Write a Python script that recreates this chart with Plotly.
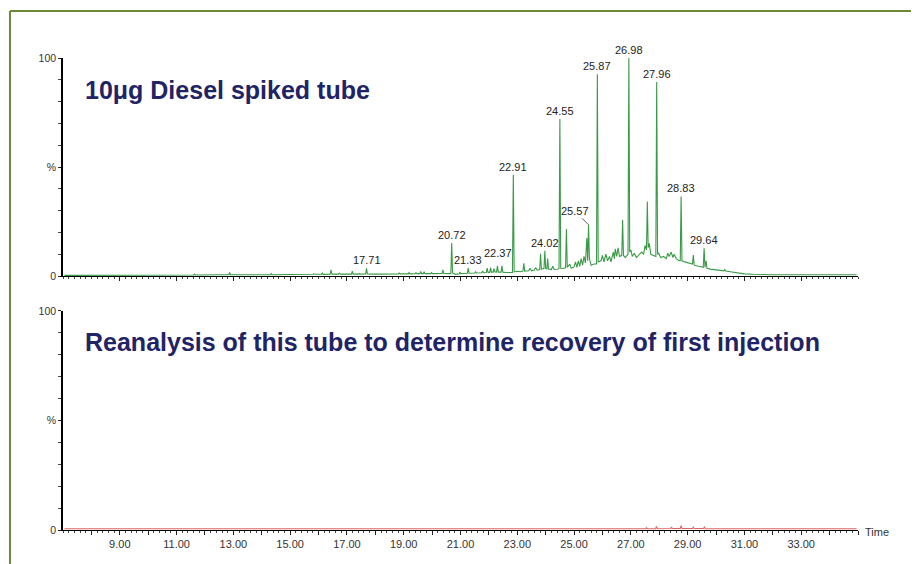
import plotly.graph_objects as go

# ---------------- data ----------------
# Top chromatogram: 10 ug diesel spiked tube (retention time in min, relative intensity %)
TIME_1 = [7.05, 8.0, 9.0, 10.0, 11.0, 11.6, 11.63, 11.66, 12.5, 12.84, 12.87, 12.9, 13.5, 14.3, 14.33, 14.36,
          15.0, 15.5, 15.8, 15.83, 15.86, 16.1, 16.13, 16.16, 16.41, 16.44, 16.47, 16.7, 16.73, 16.76,
          17.16, 17.19, 17.22, 17.4, 17.43, 17.46, 17.66, 17.69, 17.72, 18.0, 18.3, 18.33, 18.36,
          18.81, 18.84, 18.87, 19.16, 19.19, 19.22, 19.4, 19.43, 19.46, 19.57, 19.6, 19.63, 19.69, 19.72, 19.75,
          19.95, 19.98, 20.01, 20.35, 20.38, 20.41, 20.66, 20.69, 20.72, 20.8, 20.95, 20.98, 21.01,
          21.24, 21.27, 21.3, 21.5, 21.53, 21.56, 21.75, 21.78, 21.81, 21.91, 21.94, 21.97, 22.03, 22.06, 22.09,
          22.15, 22.18, 22.21, 22.27, 22.3, 22.33, 22.43, 22.46, 22.49, 22.6, 22.83, 22.86, 22.89,
          23.0, 23.1, 23.2, 23.23, 23.26, 23.4, 23.45, 23.5, 23.6, 23.65, 23.7, 23.79, 23.82, 23.85,
          23.94, 23.97, 24.0, 24.04, 24.07, 24.1, 24.2, 24.25, 24.3, 24.4, 24.47, 24.5, 24.53,
          24.6, 24.7, 24.73, 24.76, 24.85, 24.9, 25.0, 25.05, 25.1, 25.15, 25.2, 25.25, 25.3, 25.35, 25.4,
          25.45, 25.48, 25.51, 25.54, 25.6, 25.7, 25.79, 25.82, 25.85, 25.95, 26.0, 26.05, 26.12, 26.18,
          26.25, 26.3, 26.38, 26.42, 26.45, 26.5, 26.55, 26.6, 26.68, 26.71, 26.74, 26.8, 26.85, 26.9,
          26.93, 26.96, 27.0, 27.05, 27.12, 27.2, 27.3, 27.38, 27.45, 27.5, 27.55, 27.58, 27.61, 27.65,
          27.7, 27.8, 27.88, 27.91, 27.94, 27.98, 28.05, 28.15, 28.25, 28.3, 28.35, 28.42, 28.48, 28.52,
          28.6, 28.7, 28.74, 28.77, 28.8, 28.9, 29.0, 29.1, 29.17, 29.2, 29.23, 29.35, 29.45, 29.55,
          29.58, 29.61, 29.65, 29.68, 29.8, 30.0, 30.2, 30.28, 30.31, 30.34, 30.5, 30.75, 31.0, 31.3,
          31.6, 32.0, 33.0, 34.0, 34.95]
INT_1 = [0.3, 0.3, 0.4, 0.4, 0.5, 0.5, 0.9, 0.5, 0.6, 0.6, 1.6, 0.6, 0.6, 0.6, 1.2, 0.6,
         0.7, 0.7, 0.8, 1.1, 0.8, 0.8, 1.4, 0.8, 0.9, 2.8, 0.9, 0.9, 1.3, 0.9,
         0.9, 2.2, 0.9, 0.9, 1.2, 0.9, 1.0, 3.6, 1.0, 0.9, 0.9, 1.2, 0.9,
         1.0, 1.4, 1.0, 1.0, 1.6, 1.0, 1.1, 1.5, 1.1, 1.1, 2.1, 1.1, 1.1, 2.0, 1.1,
         1.1, 1.6, 1.1, 1.2, 2.8, 1.2, 1.1, 15.2, 1.4, 0.9, 1.0, 1.8, 1.1,
         1.3, 3.6, 1.3, 1.4, 2.0, 1.4, 1.5, 2.3, 1.5, 1.6, 3.6, 1.7, 1.7, 3.9, 1.8,
         1.8, 3.4, 1.9, 1.8, 4.7, 1.8, 1.8, 4.7, 1.8, 1.6, 1.7, 46.5, 1.9,
         2.2, 2.0, 2.3, 5.8, 2.3, 2.4, 3.6, 2.4, 2.8, 3.9, 2.7, 3.0, 10.2, 3.2,
         3.4, 11.6, 3.5, 3.3, 8.0, 3.2, 3.0, 4.5, 3.0, 3.1, 3.4, 72.0, 3.6,
         3.5, 3.8, 21.6, 4.0, 5.5, 3.6, 4.2, 6.5, 4.0, 7.0, 4.5, 8.0, 5.0, 9.0, 6.0,
         17.4, 7.0, 23.5, 8.0, 5.0, 5.5, 5.5, 92.5, 6.5, 7.0, 9.5, 6.5, 10.0, 7.0,
         9.0, 6.5, 11.0, 8.0, 12.5, 9.0, 13.0, 9.0, 9.5, 25.7, 9.5, 8.5, 9.5, 10.0,
         100.0, 11.0, 12.0, 9.0, 10.5, 8.5, 10.0, 11.0, 10.0, 14.0, 12.0, 34.2, 13.0, 15.0,
         10.0, 9.5, 9.0, 89.0, 10.0, 10.5, 8.5, 9.0, 8.0, 10.5, 9.0, 11.0, 8.5, 10.0,
         8.0, 7.0, 7.0, 36.5, 7.0, 6.5, 6.0, 5.5, 5.5, 9.6, 5.0, 4.6, 4.3, 4.0,
         12.8, 4.0, 7.0, 3.6, 3.2, 2.8, 2.5, 2.4, 3.0, 2.3, 2.0, 1.5, 1.0, 0.8,
         0.7, 0.6, 0.6, 0.6, 0.6]

# Bottom chromatogram: reanalysis of the same tube
TIME_2 = [7.05, 12.0, 20.0, 27.0, 27.52, 27.55, 27.58, 27.87, 27.9, 27.93, 28.2, 28.4, 28.43, 28.46,
          28.74, 28.77, 28.8, 29.17, 29.2, 29.23, 29.56, 29.59, 29.62, 30.0, 34.95]
INT_2 = [0.6, 0.6, 0.6, 0.6, 0.6, 1.0, 0.6, 0.6, 1.6, 0.6, 0.7, 0.7, 1.2, 0.7,
         0.7, 2.0, 0.7, 0.7, 1.3, 0.7, 0.7, 1.3, 0.6, 0.6, 0.6]

# Peak labels (text) and the retention time / height of the peak each one sits on
PEAK_LABELS = ["17.71", "20.72", "21.33", "22.37", "22.91", "24.02", "24.55", "25.57",
               "25.87", "26.98", "27.96", "28.83", "29.64"]
PEAK_TIMES = [17.69, 20.69, 21.27, 22.33, 22.86, 23.97, 24.5, 25.51,
              25.82, 26.93, 27.91, 28.77, 29.58]
PEAK_HEIGHTS = [3.6, 15.2, 3.6, 4.7, 46.5, 11.6, 72.0, 23.5,
                92.5, 100.0, 89.0, 36.5, 12.8]

X_TICK_LABELS = ["9.00", "11.00", "13.00", "15.00", "17.00", "19.00", "21.00",
                 "23.00", "25.00", "27.00", "29.00", "31.00", "33.00"]
Y_TICK_LABELS = ["0", "%", "100"]
TITLE_1 = "10μg Diesel spiked tube"
TITLE_2 = "Reanalysis of this tube to determine recovery of first injection"

# ---------------- figure ----------------
FONT = "Liberation Sans, Arial, sans-serif"
NAVY = "#1f2466"
GREEN = "#3a9a47"
RED = "#e06464"
BORDER = "#6b8a33"

fig = go.Figure()
fig.add_trace(go.Scatter(x=TIME_1, y=INT_1, mode="lines", line=dict(color=GREEN, width=1.1),
                         xaxis="x", yaxis="y", hoverinfo="skip", showlegend=False))
fig.add_trace(go.Scatter(x=TIME_2, y=INT_2, mode="lines", line=dict(color=RED, width=1.1),
                         xaxis="x2", yaxis="y2", hoverinfo="skip", showlegend=False))

label_vals = [float(s) for s in X_TICK_LABELS]
major_vals = [float(v) for v in range(8, 36)]
major_text = [X_TICK_LABELS[label_vals.index(v)] if v in label_vals else "" for v in major_vals]

xaxis_common = dict(range=[7, 35], showgrid=False, zeroline=False, showline=True,
                    linecolor="black", linewidth=1.2, ticks="outside", ticklen=4, tickwidth=1,
                    tickcolor="#222", tickvals=major_vals, ticktext=major_text,
                    minor=dict(dtick=0.2, tick0=7, ticklen=2, tickcolor="#444", ticks="outside"),
                    tickfont=dict(family=FONT, size=11, color="#333"))
y_vals = [0, 50, 100]
yaxis_common = dict(range=[0, 100], showgrid=False, zeroline=False, showline=True,
                    linecolor="black", linewidth=1.6, ticks="outside", ticklen=3, tickwidth=1,
                    tickcolor="#222", tickvals=y_vals, ticktext=Y_TICK_LABELS,
                    minor=dict(dtick=10, ticklen=3, tickcolor="#444", ticks="outside"),
                    tickfont=dict(family=FONT, size=10.5, color="#333"))

# the page body has an 8px margin, so the figure is made 8px smaller and shifted via margins
fig.update_layout(
    width=911, height=556,
    margin=dict(l=55, r=61, t=50, b=34),
    paper_bgcolor="white", plot_bgcolor="white",
    xaxis=dict(domain=[0, 1], anchor="y", showticklabels=False, **xaxis_common),
    yaxis=dict(domain=[0.538, 1], anchor="x", **yaxis_common),
    xaxis2=dict(domain=[0, 1], anchor="y2", showticklabels=True, **xaxis_common),
    yaxis2=dict(domain=[0, 0.464], anchor="x2", **yaxis_common),
)

annotations = []
for lab, t, h in zip(PEAK_LABELS, PEAK_TIMES, PEAK_HEIGHTS):
    if lab == "25.57":
        annotations.append(dict(x=t, y=h, xref="x", yref="y", text=lab, showarrow=True,
                                arrowhead=0, arrowwidth=0.8, arrowcolor="#333", ax=-14, ay=-14,
                                standoff=0, font=dict(family=FONT, size=11, color="#222")))
    else:
        ys = 5 if lab == "22.37" else 0
        annotations.append(dict(x=t, y=h, xref="x", yref="y", text=lab, showarrow=False,
                                yanchor="bottom", xanchor="center", yshift=ys,
                                font=dict(family=FONT, size=11, color="#222")))

annotations.append(dict(x=0.025, y=85.3, xref="paper", yref="y", text=TITLE_1, showarrow=False,
                        xanchor="left", yanchor="middle",
                        font=dict(family=FONT, size=25, color=NAVY, weight="bold")))
annotations.append(dict(x=0.025, y=85.8, xref="paper", yref="y2", text=TITLE_2, showarrow=False,
                        xanchor="left", yanchor="middle",
                        font=dict(family=FONT, size=25, color=NAVY, weight="bold")))
annotations.append(dict(x=1.006, y=0, xref="paper", yref="y2", text="Time", showarrow=False,
                        xanchor="left", yanchor="middle", yshift=-2,
                        font=dict(family=FONT, size=11, color="#333")))
fig.update_layout(annotations=annotations)

# olive frame lines at the top and left of the picture
fig.add_shape(type="line", xref="paper", yref="paper", x0=-0.0667, x1=1.1, y0=1.0996, y1=1.0996,
              line=dict(color=BORDER, width=2))
fig.add_shape(type="line", xref="paper", yref="paper", x0=-0.0667, x1=-0.0667, y0=1.0996, y1=-0.2,
              line=dict(color=BORDER, width=2))

fig.write_html("out.html")
